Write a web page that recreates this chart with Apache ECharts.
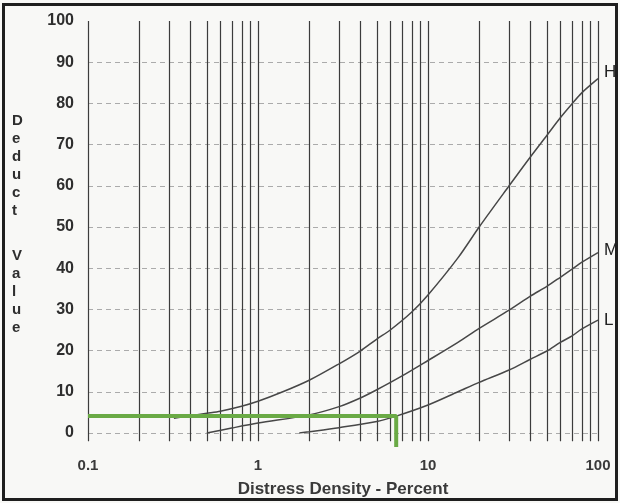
<!DOCTYPE html>
<html>
<head>
<meta charset="utf-8">
<script src="https://cdn.jsdelivr.net/npm/echarts@6/dist/echarts.min.js"></script>
<style>
html,body{margin:0;padding:0;background:#f8f8f6;}
#chart{width:620px;height:503px;}
</style>
</head>
<body>
<div id="chart"></div>
<script>
// Density (percent) and deduct values
const hDensity = [0.32, 0.5, 0.6, 0.8, 1, 1.4, 2, 3, 4, 5, 6, 8, 10, 15, 20, 30, 40, 50, 60, 70, 80, 100];
const hDeduct  = [3.6, 4.8, 5.3, 6.5, 7.7, 10, 12.8, 16.8, 19.9, 22.8, 25, 29.3, 33.5, 42.5, 50, 60, 67, 72.2, 76.5, 79.8, 82.5, 86];
const mDensity = [0.5, 0.7, 1, 2, 3, 4, 5, 7, 10, 15, 20, 30, 40, 50, 60, 70, 80, 100];
const mDeduct  = [0, 1.2, 2.4, 4.4, 6.4, 8.5, 10.5, 13.8, 17.6, 22, 25.4, 29.8, 33.2, 35.6, 37.8, 39.7, 41.4, 43.8];
const lDensity = [1.75, 2, 3, 5, 6.5, 10, 15, 20, 30, 40, 50, 60, 70, 80, 100];
const lDeduct  = [0, 0.3, 1.3, 2.8, 4.1, 6.8, 10, 12.3, 15.3, 17.9, 19.9, 22, 23.5, 25.2, 27.4];
const seriesNames = ['H', 'M', 'L'];
// Example reading (green guide line)
const guideDensity = [0.1, 6.5, 6.5];
const guideDeduct  = [4.1, 4.1, -3.4];
// Log grid lines (vertical)
const gridDensity = [0.1,0.2,0.3,0.4,0.5,0.6,0.7,0.8,0.9,1,2,3,4,5,6,7,8,9,10,20,30,40,50,60,70,80,90,100];
const gridBottom = -2, gridTop = 100;
const yTicks = {min: 0, max: 100, interval: 10};

const zip = (a, b) => a.map((v, i) => [v, b[i]]);
const chart = echarts.init(document.getElementById('chart'), null, {renderer: 'canvas'});
const curveStyle = {color: '#474747', width: 1.5};
function curve(name, xs, ys, offY) {
  return {
    type: 'line', name: name, data: zip(xs, ys), smooth: 0.3, symbol: 'none',
    lineStyle: curveStyle, itemStyle: {color: '#474747'}, z: 4, silent: true,
    endLabel: {show: true, formatter: name, distance: 6, offset: [0, offY],
      fontFamily: 'Liberation Sans', fontSize: 17, color: '#222'}
  };
}
chart.setOption({
  backgroundColor: '#f8f8f6',
  animation: false,
  grid: {left: 88, right: 22, top: 21, bottom: 69},
  xAxis: {
    type: 'log', logBase: 10, min: 0.1, max: 100,
    axisLine: {show: false}, axisTick: {show: false}, splitLine: {show: false},
    axisLabel: {margin: 25, fontFamily: 'Liberation Sans', fontSize: 15, fontWeight: 'bold', color: '#3a3a3a',
      formatter: v => String(v)},
    name: 'Distress Density - Percent', nameLocation: 'middle', nameGap: 48,
    nameTextStyle: {fontFamily: 'Liberation Sans', fontSize: 17, fontWeight: 'bold', color: '#3a3a3a'}
  },
  yAxis: {
    type: 'value', min: yTicks.min, max: yTicks.max, interval: yTicks.interval,
    axisLine: {show: false}, axisTick: {show: false},
    axisLabel: {margin: 14, fontFamily: 'Liberation Sans', fontSize: 16, fontWeight: 'bold', color: '#2e2e2e'},
    splitLine: {show: true, showMaxLine: false, lineStyle: {color: '#ababab', width: 1, type: [5, 4]}}
  },
  graphic: [
    {type: 'rect', shape: {x: 3.5, y: 4.5, width: 613, height: 495}, style: {fill: 'none', stroke: '#1e1e1e', lineWidth: 3}, z: 100},
    {type: 'text', left: 12, top: 112, style: {text: 'D\ne\nd\nu\nc\nt', fontFamily: 'Liberation Sans', fontSize: 15, fontWeight: 'bold', lineHeight: 18, fill: '#2e2e2e', align: 'center'}},
    {type: 'text', left: 12, top: 247, style: {text: 'V\na\nl\nu\ne', fontFamily: 'Liberation Sans', fontSize: 15, fontWeight: 'bold', lineHeight: 18, fill: '#2e2e2e', align: 'center'}}
  ],
  series: [
    {
      type: 'custom', name: 'grid', data: gridDensity.map(v => [v, 0]), encode: {x: 0, y: 1},
      silent: true, z: 2, clip: false,
      renderItem: function (params, api) {
        const x = api.value(0);
        const p1 = api.coord([x, gridTop]);
        const p2 = api.coord([x, gridBottom]);
        return {type: 'line', shape: {x1: Math.round(p1[0]) + 0.5, y1: p1[1], x2: Math.round(p2[0]) + 0.5, y2: p2[1]},
          style: {stroke: '#3c3c3c', lineWidth: 1.2}};
      }
    },
    curve(seriesNames[0], hDensity, hDeduct, -6),
    curve(seriesNames[1], mDensity, mDeduct, -2),
    curve(seriesNames[2], lDensity, lDeduct, 0),
    {
      type: 'line', name: 'guide', data: zip(guideDensity, guideDeduct), symbol: 'none', clip: false,
      lineStyle: {color: '#6aaa45', width: 4}, z: 6, silent: true
    }
  ]
});
</script>
</body>
</html>
